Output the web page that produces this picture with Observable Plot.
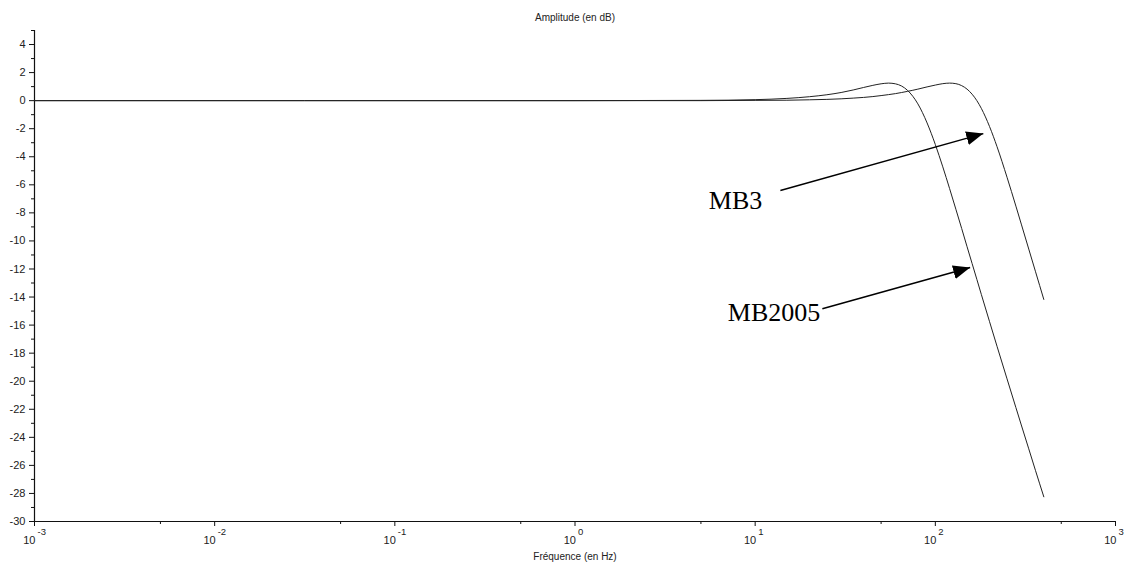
<!DOCTYPE html>
<html>
<head>
<meta charset="utf-8">
<script src="https://cdn.jsdelivr.net/npm/d3@7"></script>
<script src="https://cdn.jsdelivr.net/npm/@observablehq/plot@0.6"></script>
<style>
  html, body { margin: 0; padding: 0; background: #fff; }
  #chart { width: 1126px; height: 564px; }
</style>
</head>
<body>
<div id="chart"></div>
<script>
// ---- Data ----
const title = "Amplitude (en dB)";
const xLabel = "Fréquence (en Hz)";

const freq   = [0.001, 1, 5, 10, 15, 20, 25, 30, 35, 40, 45, 50, 55, 60, 65, 70, 75, 80, 90, 100,
                110, 120, 130, 140, 150, 160, 170, 180, 200, 220, 250, 280, 300, 330, 360, 400];
const mb2005 = [0, 0, 0.02, 0.07, 0.16, 0.28, 0.42, 0.58, 0.76, 0.94, 1.09, 1.20, 1.25, 1.20, 1.04, 0.74, 0.31, -0.23, -1.59, -3.13,
                -4.72, -6.27, -7.74, -9.11, -10.41, -11.61, -12.74, -13.81, -15.76, -17.51, -19.83, -21.88, -23.12, -24.82, -26.38, -28.24];
const mb3    = [0, 0, 0, 0.02, 0.03, 0.06, 0.09, 0.13, 0.18, 0.23, 0.29, 0.36, 0.43, 0.50, 0.58, 0.66, 0.74, 0.82, 0.98, 1.11,
                1.21, 1.25, 1.21, 1.07, 0.82, 0.46, 0, -0.55, -1.85, -3.28, -5.46, -7.52, -8.80, -10.58, -12.20, -14.17];

const yMajorTicks = [4, 2, 0, -2, -4, -6, -8, -10, -12, -14, -16, -18, -20, -22, -24, -26, -28, -30];
const yMinorTicks = [5, 3, 1, -1, -3, -5, -7, -9, -11, -13, -15, -17, -19, -21, -23, -25, -27, -29];
const xDecades    = [0.001, 0.01, 0.1, 1, 10, 100, 1000];
const xExponents  = ["-3", "-2", "-1", "0", "1", "2", "3"];
const xMinorTicks = [0.005, 0.05, 0.5, 5, 50, 500];

// annotations
const annLabels  = ["MB3", "MB2005"];
const annTextF   = [10.96, 23.0];
const annTextDb  = [-7.1, -15.09];
const annFromF   = [13.8, 23.6];
const annFromDb  = [-6.41, -14.83];
const annToF     = [184.6, 156];
const annToDb    = [-2.35, -11.9];

// ---- Build ----
const rows = freq.flatMap((f, i) => [
  {f, db: mb2005[i], s: "MB2005"},
  {f, db: mb3[i], s: "MB3"}
]);

const sans = "'Liberation Sans', Arial, Helvetica, sans-serif";
const serif = "'Liberation Serif', 'Times New Roman', Times, serif";

const plot = Plot.plot({
  width: 1126,
  height: 564,
  marginLeft: 34,
  marginRight: 11,
  marginTop: 30,
  marginBottom: 43,
  style: {fontFamily: sans, color: "#111", background: "#fff"},
  x: {type: "log", domain: [0.001, 1000], axis: null},
  y: {domain: [-30, 5], axis: null},
  marks: [
    // y axis
    Plot.axisY({ticks: yMinorTicks, tickSize: 3, tickFormat: () => "", label: null, stroke: "#111"}),
    Plot.axisY({ticks: yMajorTicks, tickSize: 5, tickPadding: 4, fontSize: 11, fill: "#222", label: null,
                tickFormat: d => String(d), stroke: "#111"}),
    Plot.ruleX([0.001], {y1: -30, y2: 5, stroke: "#111", strokeWidth: 1.2}),
    // x axis
    Plot.axisX({ticks: xMinorTicks, tickSize: 3, tickFormat: () => "", label: null, stroke: "#111"}),
    Plot.axisX({ticks: xDecades, tickSize: 5, tickFormat: () => "", label: null, stroke: "#111"}),
    Plot.ruleY([-30], {stroke: "#111", strokeWidth: 1.2}),
    Plot.text(xDecades, {x: d => d, frameAnchor: "bottom", text: () => "10",
                         textAnchor: "end", dx: 1, dy: 22, fontSize: 11, fill: "#222"}),
    Plot.text(xDecades, {x: d => d, frameAnchor: "bottom", text: (d, i) => xExponents[i],
                         textAnchor: "start", dx: 3, dy: 13, fontSize: 9.5, fill: "#222"}),
    Plot.text([xLabel], {frameAnchor: "bottom", dy: 38, fontSize: 10, fill: "#222"}),
    Plot.text([title], {frameAnchor: "top", dy: -17, fontSize: 10, fill: "#222"}),
    // curves
    Plot.line(rows, {x: "f", y: "db", z: "s", stroke: "#222", strokeWidth: 1, curve: "monotone-x"}),
    // annotations
    Plot.link(annLabels, {
      x1: (d, i) => annFromF[i], y1: (d, i) => annFromDb[i],
      x2: (d, i) => annToF[i],   y2: (d, i) => annToDb[i],
      stroke: "#000", strokeWidth: 1.5
    }),
    Plot.text(annLabels, {
      x: (d, i) => annTextF[i], y: (d, i) => annTextDb[i], text: d => d,
      textAnchor: "end", fontSize: 26, fontFamily: serif, fill: "#000"
    })
  ]
});

// filled arrowheads on the annotation links
const svg = d3.select(plot);
svg.insert("defs", ":first-child")
  .append("marker")
  .attr("id", "ahead")
  .attr("markerUnits", "userSpaceOnUse")
  .attr("markerWidth", 18)
  .attr("markerHeight", 14)
  .attr("refX", 17)
  .attr("refY", 7)
  .attr("orient", "auto")
  .append("path")
  .attr("d", "M0,0L17,7L0,14Z")
  .attr("fill", "#000");
svg.selectAll('g[aria-label="link"] path').attr("marker-end", "url(#ahead)");

document.getElementById("chart").appendChild(plot);
</script>
</body>
</html>
